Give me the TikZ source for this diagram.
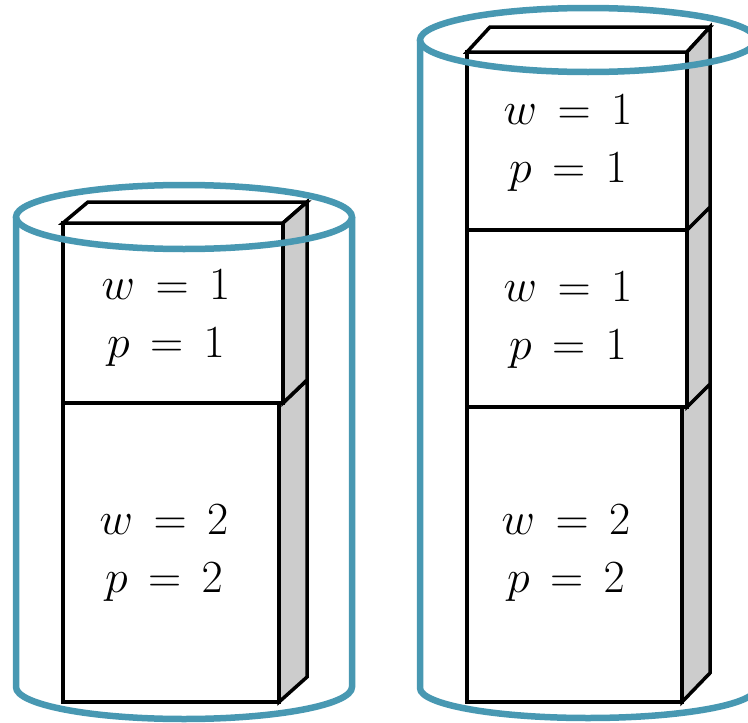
\documentclass[tikz,border=0pt]{standalone}
\usepackage{amsmath}
\usepackage{xcolor}
\usepackage{tikz}
\usetikzlibrary{positioning}

\definecolor{rimblue}{RGB}{72,152,178}
\definecolor{sidegray}{RGB}{204,204,204}

\begin{document}
\begin{tikzpicture}[x=1pt, y=-1pt,
    face/.style={draw=black, fill=white, line width=3.5pt},
    sideface/.style={draw=black, fill=sidegray, line width=3.5pt},
    rim/.style={draw=rimblue, line width=6.5pt},
    lbl/.style={align=center, font=\Huge, scale=1.85, inner sep=0pt}]
  \useasboundingbox (0,0) rectangle (748,723);
  \clip (0,0) rectangle (748,723);
  % left stack
  \draw[face] (63,403) rectangle (279,702);
  \draw[sideface] (279,403) -- (283,403) -- (307,380) -- (307,677) -- (279,702) -- cycle;
  \draw[face] (63,223) rectangle (283,403);
  \draw[face] (63,223) -- (88,202) -- (307,202) -- (283,223) -- cycle;
  \draw[sideface] (283,223) -- (307,202) -- (307,380) -- (283,403) -- cycle;
  \node[lbl] (lt) at (166,318) {$w\,=\,1$\\[1pt]$p\,=\,1$};
  \node[lbl] (lb) at (164,553) {$w\,=\,2$\\[1pt]$p\,=\,2$};
  % right stack
  \draw[face] (467,407) rectangle (682,702);
  \draw[sideface] (682,407) -- (687,407) -- (710,384) -- (710,673) -- (682,702) -- cycle;
  \draw[face] (467,230) rectangle (687,407);
  \draw[sideface] (687,230) -- (710,207) -- (710,384) -- (687,407) -- cycle;
  \draw[face] (467,52) rectangle (687,230);
  \draw[face] (467,52) -- (490,27) -- (710,27) -- (687,52) -- cycle;
  \draw[sideface] (687,52) -- (710,27) -- (710,207) -- (687,230) -- cycle;
  \node[lbl] (rt) at (568,143) {$w\,=\,1$\\[1pt]$p\,=\,1$};
  \node[lbl] (rm) at (568,320) {$w\,=\,1$\\[1pt]$p\,=\,1$};
  \node[lbl] (rb) at (566,553) {$w\,=\,2$\\[1pt]$p\,=\,2$};
  % cylinders
  \draw[rim] (184,217) ellipse (168 and 32);
  \draw[rim] (16,217) -- (16,687) arc (180:0:168 and 32) -- (352,217);
  \draw[rim] (588,40) ellipse (168 and 32);
  \draw[rim] (420,40) -- (420,688) arc (180:0:168 and 30) -- (756,40);
\end{tikzpicture}
\end{document}
